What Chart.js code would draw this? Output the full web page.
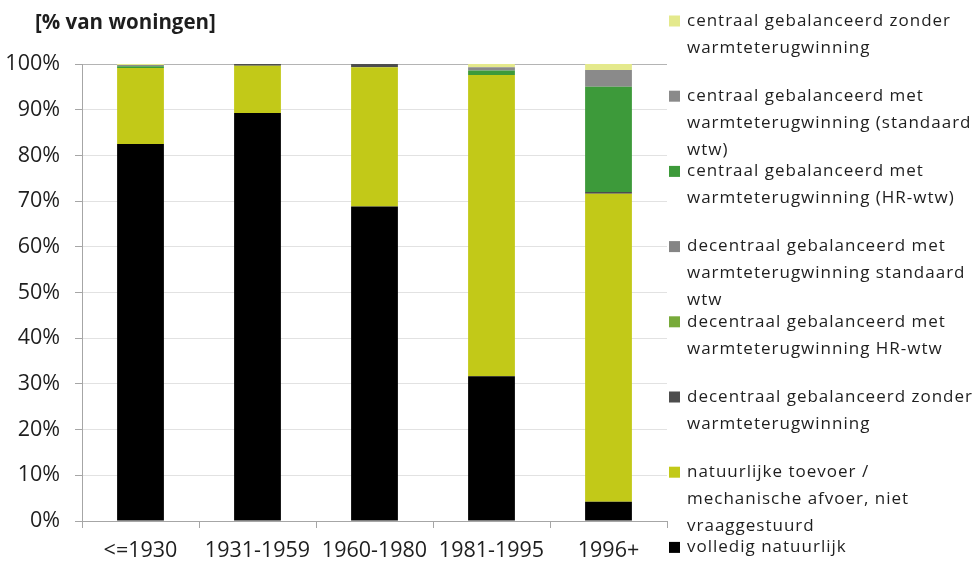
<!DOCTYPE html>
<html>
<head>
<meta charset="utf-8">
<script src="https://cdn.jsdelivr.net/npm/chart.js@4"></script>
<style>
  html, body { margin: 0; padding: 0; background: #fff; }
</style>
</head>
<body>
<canvas id="ventChart" width="979" height="563"></canvas>
<script>
// bouwperiodes
const categories = ['<=1930', '1931-1959', '1960-1980', '1981-1995', '1996+'];

// aandeel woningen per ventilatiesysteem (%), van onder naar boven gestapeld
const volledigNatuurlijk   = [82.5, 89.3, 68.8, 31.7, 4.2];
const natuurlijkeToevoer   = [16.6, 10.3, 30.5, 65.9, 67.4];
const decentraalZonder     = [0, 0.4, 0.7, 0, 0.4];
const decentraalHR         = [0, 0, 0, 0, 0];
const decentraalStandaard  = [0, 0, 0, 0, 0];
const centraalHR           = [0.4, 0, 0, 1.0, 23.0];
const centraalStandaard    = [0.3, 0, 0, 0.7, 3.7];
const centraalZonder       = [0.2, 0, 0, 0.7, 1.3];

const yTicks = [0, 10, 20, 30, 40, 50, 60, 70, 80, 90, 100];

Chart.defaults.font.family = '"Open Sans", sans-serif';
Chart.defaults.color = '#1e1e1e';

// legenda rechts + titel linksboven, zoals in Excel
const sideLegend = {
  id: 'sideLegend',
  afterDraw(chart) {
    const ctx = chart.ctx;
    const sets = chart.data.datasets.slice().reverse();
    const x0 = chart.chartArea.right + 2;
    ctx.save();
    ctx.textBaseline = 'middle';
    ctx.font = '17px "Open Sans"';
    ctx.letterSpacing = '1px';
    sets.forEach((ds, i) => {
      const y = 21 + i * 75.2;
      ctx.fillStyle = ds.backgroundColor;
      ctx.fillRect(x0, y - 5.5, 11, 11);
      ctx.fillStyle = '#1e1e1e';
      ds.label.split('\n').forEach((line, j) => {
        ctx.fillText(line, x0 + 18, y + j * 27);
      });
    });
    ctx.letterSpacing = '0px';
    ctx.font = 'bold 20.5px "Open Sans"';
    ctx.fillText('[% van woningen]', 35, 23);
    ctx.restore();
  }
};

function series(label, data, color) {
  return { label, data, backgroundColor: color, borderWidth: 0 };
}

new Chart(document.getElementById('ventChart'), {
  type: 'bar',
  data: {
    labels: categories,
    datasets: [
      series('volledig natuurlijk', volledigNatuurlijk, '#000000'),
      series('natuurlijke toevoer /\nmechanische afvoer, niet\nvraaggestuurd', natuurlijkeToevoer, '#c2c918'),
      series('decentraal gebalanceerd zonder\nwarmteterugwinning', decentraalZonder, '#4d4d4d'),
      series('decentraal gebalanceerd met\nwarmteterugwinning HR-wtw', decentraalHR, '#78aa3a'),
      series('decentraal gebalanceerd met\nwarmteterugwinning standaard\nwtw', decentraalStandaard, '#858585'),
      series('centraal gebalanceerd met\nwarmteterugwinning (HR-wtw)', centraalHR, '#3d9a3a'),
      series('centraal gebalanceerd met\nwarmteterugwinning (standaard\nwtw)', centraalStandaard, '#8a8a8a'),
      series('centraal gebalanceerd zonder\nwarmteterugwinning', centraalZonder, '#e4e98c')
    ]
  },
  options: {
    responsive: false,
    animation: false,
    layout: { padding: { top: 64, right: 312, left: 0, bottom: 0 } },
    plugins: {
      legend: { display: false },
      tooltip: { enabled: false }
    },
    datasets: {
      bar: { categoryPercentage: 0.4, barPercentage: 1 }
    },
    scales: {
      x: {
        stacked: true,
        grid: { offset: true, drawOnChartArea: false, tickLength: 7, color: '#a6a6a6' },
        border: { color: '#a6a6a6' },
        ticks: { font: { size: 21.5 }, padding: 10, color: '#1e1e1e' },
        afterFit(scale) { scale.height = 42; }
      },
      y: {
        stacked: true,
        min: 0,
        max: 100,
        afterBuildTicks(scale) { scale.ticks = yTicks.map(v => ({ value: v })); },
        grid: {
          tickLength: 7,
          color: ctx => ctx.tick && ctx.tick.value === 100 ? '#b4b4b4' : '#e2e2e2',
          tickColor: '#a6a6a6'
        },
        border: { color: '#a6a6a6' },
        ticks: { font: { size: 21.5 }, padding: 15, color: '#1e1e1e', callback: v => v + '%' },
        afterFit(scale) { scale.width = 82; }
      }
    }
  },
  plugins: [sideLegend]
});
</script>
</body>
</html>
